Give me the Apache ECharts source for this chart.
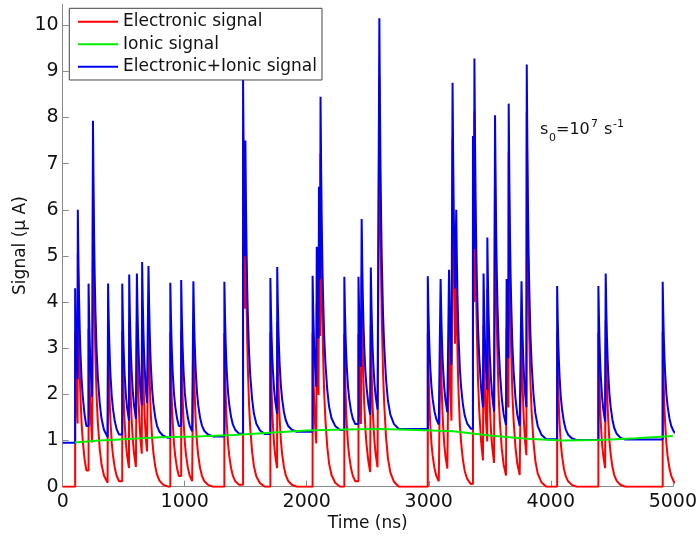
<!DOCTYPE html>
<html style="height: 100%">
<head>
	<meta charset="utf-8">
	<title>Signal vs time</title>
	<script src="https://cdn.jsdelivr.net/npm/echarts@6/dist/echarts.min.js"></script>
</head>
<body style="height: 100%; margin: 0; background: #fff">
	<div id="main" style="width: 700px; height: 539px"></div>
	<script type="text/javascript">

		// pulses: time (ns), peak of the total trace, baseline under it
		var pulseTime = [102, 124, 212, 248, 372, 488, 545, 608, 651, 703, 882, 971, 1071, 1325, 1478, 1497,
			1702, 1758, 2048, 2082, 2100, 2113, 2308, 2424, 2450, 2525, 2595, 2992, 3097, 3166, 3195, 3225,
			3362, 3374, 3449, 3480, 3543, 3638, 3655, 3760, 3803, 4052, 4390, 4450, 4917];
		var totalPeak = [4.3, 6.0, 4.4, 7.93, 4.4, 4.4, 4.6, 4.62, 4.87, 4.78, 4.42, 4.48, 4.45, 4.44, 8.85, 7.5,
			4.52, 4.76, 4.57, 5.2, 6.5, 8.45, 4.55, 4.55, 5.8, 4.75, 10.15, 4.56, 4.5, 4.7, 8.75, 6.0,
			7.6, 9.28, 4.62, 5.4, 8.05, 4.5, 8.3, 4.45, 9.15, 4.35, 4.35, 4.62, 4.44];
		var baseLevel = [0.96, 0.96, 0.98, 0.99, 1.01, 1.03, 1.04, 1.05, 1.05, 1.06, 1.08, 1.08, 1.09, 1.11, 1.14, 1.14,
			1.18, 1.19, 1.23, 1.23, 1.23, 1.23, 1.24, 1.24, 1.24, 1.25, 1.25, 1.23, 1.22, 1.21, 1.2, 1.2,
			1.15, 1.15, 1.12, 1.11, 1.09, 1.07, 1.06, 1.04, 1.03, 1.01, 1.01, 1.02, 1.08];

		var decayOffset = [0, 5, 10, 15, 20, 30, 40, 55, 70, 90, 120, 160];
		var decayFraction = [1, 0.78, 0.62, 0.5, 0.41, 0.28, 0.2, 0.12, 0.07, 0.035, 0.012, 0];

		// ionic signal (green)
		var ionicTime = [100, 300, 500, 800, 1100, 1400, 1700, 2000, 2300, 2600, 2900, 3200, 3500, 3800, 4100, 4400, 4700, 5000];
		var ionicSignal = [0.96, 1.0, 1.03, 1.07, 1.09, 1.12, 1.17, 1.22, 1.24, 1.25, 1.23, 1.2, 1.11, 1.04, 1.0, 1.01, 1.05, 1.1];

		var totalStart = 0.95;
		var xTicks = [0, 1000, 2000, 3000, 4000, 5000];

		var elec = [[0, 0]];
		var total = [[0, totalStart]];
		for (var i = 0; i < pulseTime.length; i++) {
			var t = pulseTime[i];
			var amp = totalPeak[i] - baseLevel[i];
			var next = i + 1 < pulseTime.length ? pulseTime[i + 1] : Infinity;
			elec.push([t, elec[elec.length - 1][1]]);
			total.push([t, total[total.length - 1][1]]);
			for (var k = 0; k < decayOffset.length; k++) {
				if (k > 0 && t + decayOffset[k] >= next) break;
				elec.push([t + decayOffset[k], amp * decayFraction[k]]);
				total.push([t + decayOffset[k], baseLevel[i] + amp * decayFraction[k]]);
			}
		}
		var ionic = ionicTime.map(function(t, j){ return [t, ionicSignal[j]]; });

		var font = '"DejaVu Sans", sans-serif';
		var axisGrey = '#8a8a8a';

		var myChart = echarts.init(document.getElementById('main'), null, {renderer: 'canvas'});
		myChart.setOption({
			animation: false,
			backgroundColor: '#fff',
			textStyle: {fontFamily: font},
			grid: {left: 62.7, right: 21, top: 4.4, bottom: 52.3, containLabel: false},
			xAxis: {
				type: 'value', min: xTicks[0], max: xTicks[xTicks.length - 1], interval: 1000,
				name: 'Time (ns)', nameLocation: 'middle', nameGap: 28, nameMoveOverlap: false,
				nameTextStyle: {fontSize: 17, color: '#111', fontFamily: font},
				axisLine: {lineStyle: {color: axisGrey, width: 1}},
				axisTick: {inside: true, length: 6, lineStyle: {color: axisGrey}},
				axisLabel: {fontSize: 19, color: '#111', margin: 6, fontFamily: font,
					formatter: function(v){ return String(v); }},
				splitLine: {show: false}
			},
			yAxis: {
				type: 'value', min: 0, max: 10.45, interval: 1,
				name: 'Signal (\u03bc A)', nameLocation: 'middle', nameGap: 34, nameMoveOverlap: false,
				nameTextStyle: {fontSize: 17, color: '#111', fontFamily: font},
				axisLine: {show: true, lineStyle: {color: axisGrey, width: 1}},
				axisTick: {show: true, inside: true, length: 6, lineStyle: {color: axisGrey}},
				axisLabel: {fontSize: 19, color: '#111', margin: 4, showMaxLabel: false, fontFamily: font},
				splitLine: {show: false}
			},
			legend: {
				data: ['Electronic signal', 'Ionic signal', 'Electronic+Ionic signal'],
				orient: 'vertical', left: 69.3, top: 8.3,
				icon: 'rect', itemWidth: 40, itemHeight: 2, itemGap: 2.5,
				padding: [3.4, 5, 3.3, 8.7],
				backgroundColor: '#fff', borderColor: '#444', borderWidth: 1,
				textStyle: {fontSize: 17, color: '#111', lineHeight: 20, fontFamily: font}
			},
			series: [
				{name: 'Electronic signal', type: 'line', data: elec, symbol: 'none',
					lineStyle: {color: '#ff0000', width: 2}, itemStyle: {color: '#ff0000'}, z: 2},
				{name: 'Electronic+Ionic signal', type: 'line', data: total, symbol: 'none',
					lineStyle: {color: '#0000f0', width: 2}, itemStyle: {color: '#0000f0'}, z: 3},
				{name: 'Ionic signal', type: 'line', data: ionic, symbol: 'none',
					lineStyle: {color: '#00ee00', width: 2}, itemStyle: {color: '#00ee00'}, z: 4}
			],
			graphic: [
				{type: 'text', left: 540, top: 122, style: {text: 's', font: '16px ' + font, fill: '#111'}},
				{type: 'text', left: 549, top: 133, style: {text: '0', font: '11px ' + font, fill: '#111'}},
				{type: 'text', left: 556, top: 122, style: {text: '=10', font: '16px ' + font, fill: '#111'}},
				{type: 'text', left: 591, top: 119, style: {text: '7', font: '11px ' + font, fill: '#111'}},
				{type: 'text', left: 604, top: 122, style: {text: 's', font: '16px ' + font, fill: '#111'}},
				{type: 'text', left: 613, top: 119, style: {text: '-1', font: '11px ' + font, fill: '#111'}}
			]
		});
	</script>
</body>
</html>
